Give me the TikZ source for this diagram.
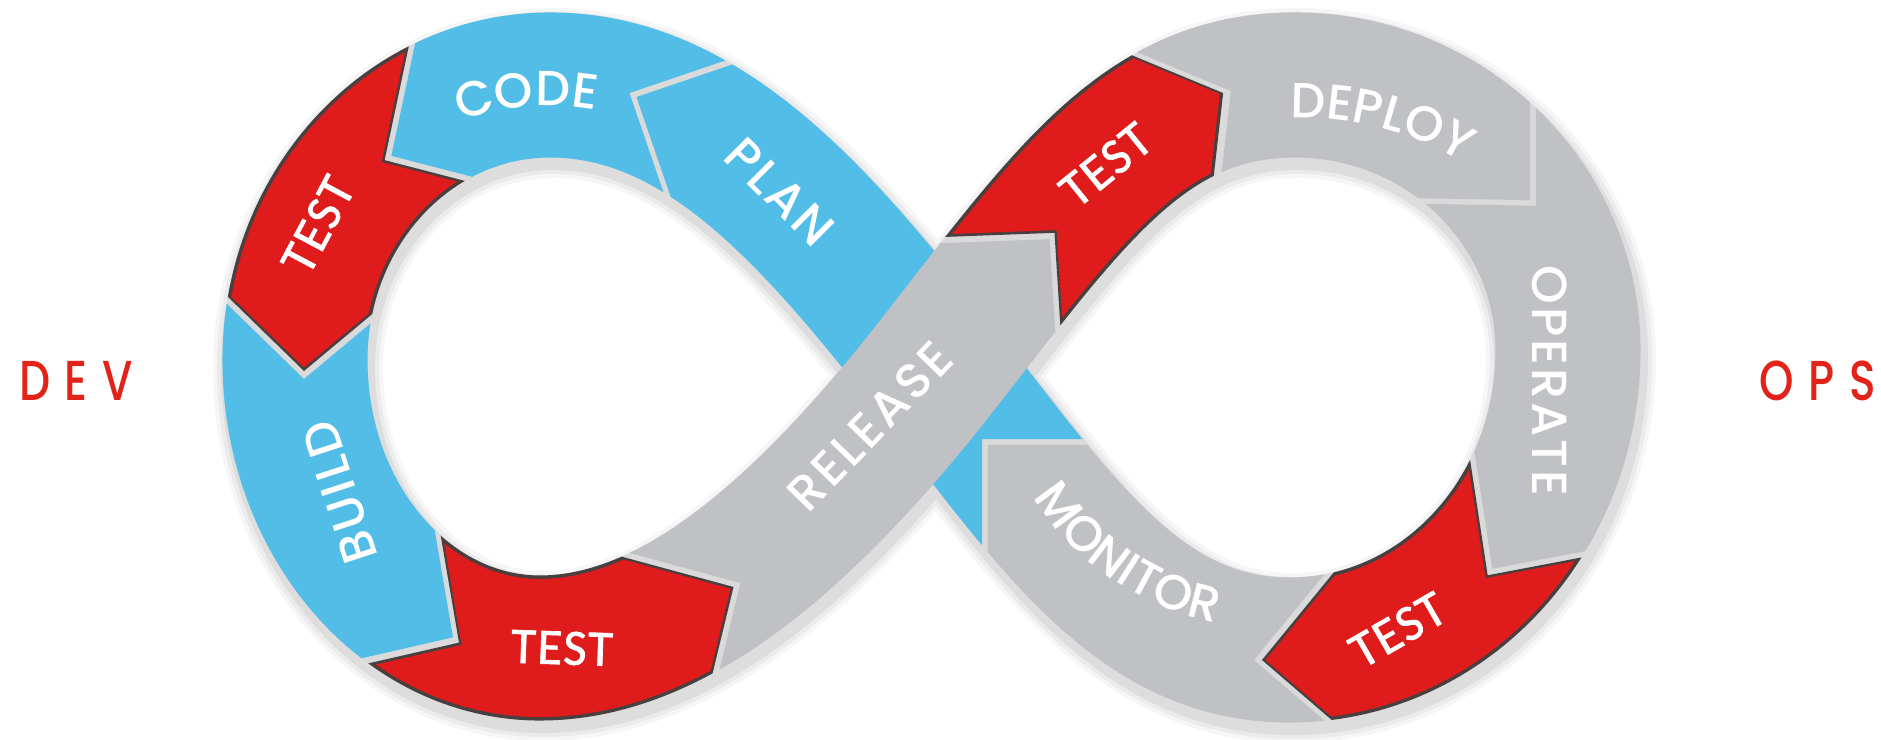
\documentclass[tikz,border=0pt]{standalone}
\usepackage{fontspec}
\usetikzlibrary{calc,decorations.text}
\IfFontExistsTF{Poppins Medium}
  {\newfontfamily\labfont[LetterSpace=6]{Poppins Medium}
   \newfontfamily\devfont[LetterSpace=26,FakeStretch=0.78]{Poppins Medium}}
  {\newfontfamily\labfont[LetterSpace=6,FakeBold=1.5]{Poppins}
   \newfontfamily\devfont[LetterSpace=26,FakeStretch=0.78,FakeBold=1.5]{Poppins}}
\newfontfamily\tstfont[LetterSpace=3,FakeBold=1.3]{Carlito}
\definecolor{cblue}{HTML}{52BEE8}
\definecolor{cred}{HTML}{E01B1B}
\definecolor{cgray}{HTML}{BFC1C4}
\definecolor{cedge}{HTML}{4A3F3F}
\definecolor{cgap}{HTML}{DADADA}
\definecolor{cdev}{HTML}{E2231A}
\newcommand\labsz{\labfont\fontsize{14}{16}\selectfont}
\newcommand\tstsz{\tstfont\fontsize{14.5}{16}\selectfont}
\newcommand\devsz{\devfont\fontsize{16}{17}\selectfont}
% clip wedge between two chevron boundaries
\newcommand\segclip[5]{%
  \clip ($(#1A)+#3*(#1F)$) -- ($(#1T)+#3*(#1F)$) -- ($(#1B)+#3*(#1F)$) #4
     -- ($(#2B)-#3*(#2F)$) -- ($(#2T)-#3*(#2F)$) -- ($(#2A)-#3*(#2F)$) #5 -- cycle;}
\newcommand\seg[6]{%
  \begin{scope}\segclip{#2}{#3}{4}{#4}{#5}\draw[line width=1.45cm,#1] #6;\end{scope}}
\newcommand\redseg[5]{%
  \begin{scope}\segclip{#1}{#2}{4}{#3}{#4}\draw[line width=1.45cm,cedge] #5;\end{scope}
  \begin{scope}\segclip{#1}{#2}{7.5}{#3}{#4}\draw[line width=1.38cm,cred] #5;\end{scope}}
\def\leftloop{(935,368) .. controls (812,210) and (700,85) .. (550,85) .. controls (409,85) and (295,208) .. (295,360) .. controls (295,519) and (405,648) .. (540,648) .. controls (660,648) and (787,557) .. (935,368)}
\def\rightloop{(935,368) .. controls (1070.5,194.6) and (1145,85) .. (1295,85) .. controls (1446,85) and (1568,204) .. (1568,350) .. controls (1568,516) and (1444,650) .. (1290,650) .. controls (1140,650) and (1058,526) .. (935,368)}
\def\eightpath{(935,368) .. controls (812,210) and (700,85) .. (550,85) .. controls (409,85) and (295,208) .. (295,360) .. controls (295,519) and (405,648) .. (540,648) .. controls (660,648) and (787,557) .. (935,368) .. controls (1070.5,194.6) and (1145,85) .. (1295,85) .. controls (1446,85) and (1568,204) .. (1568,350) .. controls (1568,516) and (1444,650) .. (1290,650) .. controls (1140,650) and (1058,526) .. (935,368)}
\def\planpath{(1290,650) .. controls (1140,650) and (1058,526) .. (935,368) .. controls (812,210) and (700,85) .. (550,85)}
\def\releasepath{(540,648) .. controls (660,648) and (787,557) .. (935,368) .. controls (1070.5,194.6) and (1145,85) .. (1295,85)}
\def\xtrpath{(935,368) .. controls (1070.5,194.6) and (1145,85) .. (1295,85)}
\begin{document}
\begin{tikzpicture}[x=0.01cm,y=-0.01cm,line cap=butt]
\useasboundingbox (0,0) rectangle (1881,740);
\fill[white] (0,0) rectangle (1881,740);
% chevron boundaries: A = right-hand side of flow, T = tip, B = left-hand side, F = flow direction
\coordinate (b1A) at (798,39);   \coordinate (b1T) at (633,95);   \coordinate (b1B) at (684,244);  \coordinate (b1F) at (-0.87,-0.5);
\coordinate (b2A) at (427,-26);  \coordinate (b2T) at (388,158);  \coordinate (b2B) at (558,202);  \coordinate (b2F) at (-0.84,0.54);
\coordinate (b3A) at (189,263);  \coordinate (b3T) at (304,375);  \coordinate (b3B) at (413,284);  \coordinate (b3F) at (0,1);
\coordinate (b4A) at (290,678);  \coordinate (b4T) at (456,640);  \coordinate (b4B) at (429,482);  \coordinate (b4F) at (0.75,0.66);
\coordinate (b5A) at (697,750);  \coordinate (b5T) at (737,585);  \coordinate (b5B) at (582,543);  \coordinate (b5F) at (0.87,-0.49);
\coordinate (b6A) at (1063,411); \coordinate (b6T) at (1052,236); \coordinate (b6B) at (865,243);  \coordinate (b6F) at (0.62,-0.79);
\coordinate (b7A) at (1210,242); \coordinate (b7T) at (1227,92);  \coordinate (b7B) at (1082,32);  \coordinate (b7F) at (0.96,-0.26);
\coordinate (b8A) at (1365,200); \coordinate (b8T) at (1533,203); \coordinate (b8B) at (1533,16);  \coordinate (b8F) at (0.7,0.7);
\coordinate (b9A) at (1463,395); \coordinate (b9T) at (1490,572); \coordinate (b9B) at (1669,538); \coordinate (b9F) at (-0.58,0.82);
\coordinate (b10A) at (1367,527); \coordinate (b10T) at (1258,660); \coordinate (b10B) at (1380,765); \coordinate (b10F) at (-1,0);
\coordinate (b11A) at (1140,442); \coordinate (b11T) at (985,442); \coordinate (b11B) at (985,600); \coordinate (b11F) at (-0.7,-0.7);
\coordinate (holeL) at (555,368);
\coordinate (holeR) at (1290,370);
% shadow
\foreach \w/\o in {1.70/0.035,1.62/0.045,1.54/0.06}
  \draw[line width=\w cm,black,opacity=\o,shift={(3,8)}] \eightpath;
% base band (gaps)
\draw[line width=1.45cm,cgap] \eightpath;
% segments
\seg{cblue}{b11}{b1}{-- (760,420)}{-- (1100,150)}{\planpath}
\seg{cblue}{b1}{b2}{-- (holeL)}{-- (600,-100)}{\leftloop}
\redseg{b2}{b3}{-- (holeL)}{-- (150,40)}{\leftloop}
\seg{cblue}{b3}{b4}{-- (holeL)}{-- (100,500)}{\leftloop}
\redseg{b4}{b5}{-- (holeL)}{-- (450,850)}{\leftloop}
\redseg{b6}{b7}{-- (900,40)}{}{\xtrpath}
\seg{cgray}{b7}{b8}{-- (1300,-120)}{-- (holeR)}{\rightloop}
\seg{cgray}{b8}{b9}{-- (1800,200)}{-- (holeR)}{\rightloop}
\redseg{b9}{b10}{-- (1700,820)}{-- (holeR)}{\rightloop}
\seg{cgray}{b10}{b11}{-- (1000,800)}{-- (holeR)}{\rightloop}
\seg{cgray}{b5}{b6}{}{-- (1100,650)}{\releasepath}
% labels
\path[decorate,decoration={text along path,text align=center,text={|\labsz\color{white}|CODE}}]
  (419,141) .. controls (486,102) and (567,95) .. (640,122);
\path[decorate,decoration={text along path,text align=center,text={|\labsz\color{white}|DEPLOY}}]
  (1225,124) .. controls (1320,108) and (1430,118) .. (1512,205);
\path[decorate,decoration={text along path,text align=center,text={|\labsz\color{white}|MONITOR}}]
  (1012,455) .. controls (1053,556) and (1150,624) .. (1262,628);
\node[text=white,font=\labsz,rotate=-45] (plan) at (780,192) {PLAN};
\node[text=white,font=\labsz,rotate=108] (build) at (340,492) {BUILD};
\node[text=white,font=\labsz,rotate=46] (release) at (870,426) {RELEASE};
\node[text=white,font=\labsz,rotate=-90] (operate) at (1550,381) {OPERATE};
\node[text=white,font=\tstsz,rotate=62] (testl) at (318,225) {TEST};
\node[text=white,font=\tstsz,rotate=-2] (testb) at (562,648) {TEST};
\node[text=white,font=\tstsz,rotate=39] (testtr) at (1106,165) {TEST};
\node[text=white,font=\tstsz,rotate=30] (testbr) at (1398,630) {TEST};
\node[text=cdev,font=\devsz] (dev) at (76,381) {DEV};
\node[text=cdev,font=\devsz] (ops) at (1818,381) {OPS};
\end{tikzpicture}
\end{document}
